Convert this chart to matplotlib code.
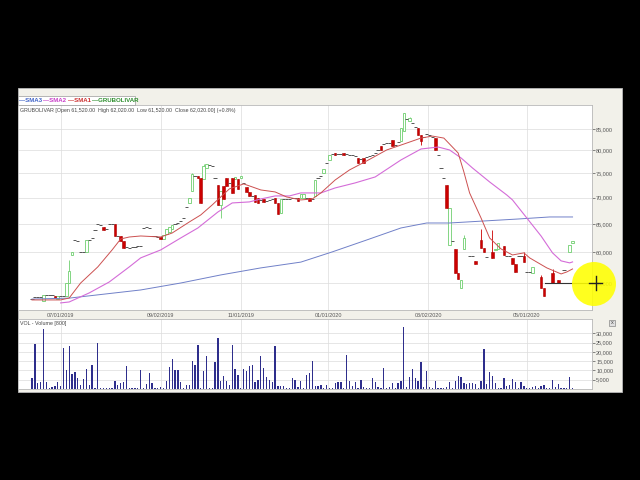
import numpy as np
import matplotlib
matplotlib.use("Agg")
import matplotlib.pyplot as plt
from matplotlib.patches import Rectangle, Ellipse
from matplotlib.lines import Line2D
from matplotlib.ticker import FixedLocator, NullLocator, FuncFormatter

plt.rcParams['font.family'] = ['Liberation Sans', 'DejaVu Sans']

symbol = "GRUBOLIVAR"
N = None

opens = [52600, 52800, 52900, 52900, 52300, 53100, 53100, 53100, 53000, 52600,
         53000, 53000, 53000, 55000, 59500, 62100, 62000, 60000, 60000, 60000,
         62100, 62500, 63900, 65000, 64800, 64400, 64000, 65000, 65000, 65000,
         62900, 62900, 61950, 60900, 60800, 60900, 60900, 61000, 61000, 64300,
         64400, 64300, 62800, 62800, 62700, 62700, 62300, 63200, 63600, 64000,
         65000, 65200, 65500, 66100, 68200, 69000, 71300, 74500, 74500, 74000,
         73800, 76200, 76800, 76500, 74000, 72600, 68500, 72300, 74000, 73000,
         74000, 73800, 73800, 74000, 73000, 72100, 71200, 70300, 70600, 70000,
         69500, 69800, 69400, 69600, 69800, 70000, 69000, 67000, 69800, 69800,
         69800, 69900, 69900, 70000, 69900, 70000, 69900, 70000, 69700, 70300,
         74000, 74500, 75000, 77300, 77900, 79300, 79400, 79200, 79200, 79400,
         79100, 78900, 79000, 78800, 78300, 78000, 78300, 78500, 78700, 79000,
         79500, 80000, 81000, 81500, 81600, 81800, 82400, 81300, 82000, 82200,
         84500, 87500, 87000, 86500, 85500, 85200, 83500, 83000, 83900, 83500,
         83000, 82800, 79000, 76200, 74000, 72600, 61300, 62000, 60500, 56600,
         54300, 60500, N, 59400, 59400, 58600, N, 62100, 60700, 59200,
         N, 60000, 60300, 60500, N, 61000, 59300, 59300, 59000, 58000,
         59400, 59400, 59300, 56700, 56700, 56600, N, N, 56000, 54300,
         N, N, 56600, N, 55500, N, 57100, N, 60000, 61520]

closes = [52600, 52800, 52900, 52900, 53200, 53100, 53100, 53100, 52700, 53000,
          53000, 53000, 55000, 56900, 60000, 62100, 62000, 60000, 60000, 62100,
          62100, 62500, 63900, 65000, 64800, 63900, 64000, 65000, 65000, 62900,
          62900, 61950, 60800, 60900, 60800, 60900, 60900, 61000, 61000, 64300,
          64400, 64300, 62800, 62800, 62700, 62200, 63000, 64000, 64500, 64800,
          65000, 65200, 65500, 66100, 68200, 70000, 74800, 74500, 74000, 69000,
          76500, 76900, 76800, 76500, 74000, 68500, 71300, 69800, 72300, 73000,
          71000, 74200, 71800, 74400, 73000, 71100, 70300, 70300, 69200, 69000,
          69500, 69100, 69400, 69600, 69800, 69000, 66800, 69800, 69800, 69800,
          69800, 69900, 69900, 69400, 70700, 70800, 69900, 69300, 69700, 73500,
          74000, 74500, 75900, 77300, 79000, 79300, 79000, 79200, 79200, 79000,
          79100, 78900, 79000, 78800, 77200, 78000, 77200, 78500, 78700, 79000,
          79500, 80000, 80000, 81500, 81600, 81800, 81000, 81300, 82000, 85200,
          88900, 87500, 87700, 86500, 85500, 83500, 82200, 83000, 83900, 83500,
          83000, 80100, 79000, 76200, 74000, 68000, 68000, 62000, 56600, 55600,
          55500, 62400, N, 59400, 59400, 58100, N, 60800, 60000, 59200,
          N, 59000, 60600, 61500, N, 59500, 59300, 59300, 58100, 56800,
          59400, 59400, 58300, 56700, 56700, 57600, N, N, 54300, 53000,
          N, N, 55000, N, 55000, N, 57100, N, 61300, 62020]

wick_hi_idx = [13, 56, 60, 130, 132, 151, 157, 161, 172, 178, 182]
wick_hi_val = [58700, 75000, 77000, 89000, 88000, 63000, 64000, 63900, 60000, 56200, 57300]
wick_lo_idx = [66, 136]
wick_lo_val = [66100, 81300]

volume_k = [6, 24, 3, 3.5, 32.5, 3.5, 0.5, 1, 1.5, 3.5,
            1.5, 22, 10, 23, 8, 9, 6, 2, 5.5, 10.5,
            2, 13, 0.5, 24.5, 0.5, 0.5, 0.5, 0.5, 0.3, 4.5,
            2, 3, 4, 12.5, 0.5, 0.5, 0.5, 0.3, 10, 0.5,
            2.5, 8.5, 3, 0.5, 0.5, 1, 0.3, 4.5, 12, 16,
            10, 10, 3.5, 0.5, 2, 2, 15, 13, 23.5, 0.5,
            9.5, 17.5, 0.5, 0.3, 14.5, 27.5, 4.5, 7, 4.5, 2,
            23.5, 11, 7.5, 0.5, 10.5, 9.5, 12.5, 13, 3.5, 5,
            17.5, 11.5, 6.5, 5, 3.5, 23, 1.5, 1.5, 1.5, 0.5,
            0.3, 6, 5, 1, 4.5, 0.3, 7.5, 8.5, 15, 1.5,
            1.5, 2, 0.3, 2, 0.5, 0.3, 3, 4, 3.5, 0.5,
            18.5, 4.5, 1.5, 4, 0.5, 5, 1, 0.5, 0.3, 6,
            3.5, 1, 0.5, 11.5, 0.5, 1, 3, 0.5, 3, 4.5,
            33.5, 1, 6.5, 10.5, 6, 4.5, 14.5, 1, 9.5, 1,
            0.5, 4.5, 0.5, 0.5, 0.5, 1, 3.5, 0.5, 4.5, 7,
            6.5, 3, 2.5, 3, 3, 2.5, 0.5, 4.5, 21.5, 2.5,
            9, 7, 3, 0.5, 0.5, 6, 1.5, 2, 5.5, 3.5,
            0.5, 3.5, 1.5, 0.5, 0.5, 1, 1.5, 0.5, 1.5, 2,
            0.5, 0.3, 5, 1, 2.5, 0.5, 0.5, 0.3, 6.5, 0.5]

sma1_idx = [0, 10, 13, 17, 23, 28, 31, 34, 38, 45, 49, 55, 59, 63, 66, 69, 74, 77, 80,
            85, 89, 94, 98, 101, 106, 111, 117, 124, 130, 136, 140, 144, 147, 149,
            151, 153, 157, 160, 164, 168, 172, 174, 180, 185, 187, 189]
sma1_val = [52430, 52430, 52720, 55000, 57560, 60390, 62290, 62640, 62820, 62640,
            63350, 65360, 66670, 68580, 70150, 71760, 72780, 72170, 71550, 71150,
            70150, 69560, 69750, 70950, 73600, 75710, 77660, 80110, 81460, 82850,
            83320, 82850, 80780, 79430, 75290, 70950, 66100, 62470, 60560, 59540,
            59890, 59050, 57400, 56430, 56750, 57230]

sma2_idx = [10, 13, 20, 27, 34, 38, 45, 52, 58, 65, 70, 76, 80, 85, 90, 94, 101, 106,
            113, 120, 129, 136, 142, 146, 150, 154, 160, 166, 168, 173, 178, 182,
            185, 188, 189]
sma2_val = [51990, 52130, 53480, 55160, 57560, 59050, 60390, 62470, 64260, 67230,
            68970, 69170, 69750, 70350, 70350, 70950, 70950, 71960, 72990, 74230,
            77880, 80330, 80780, 80110, 78330, 76140, 73190, 70540, 69560, 66100,
            62810, 59890, 58550, 58220, 58380]

sma3_idx = [0, 13, 38, 52, 66, 80, 94, 105, 117, 129, 138, 146, 158, 170, 181, 189]
sma3_val = [52560, 52700, 53930, 55000, 56270, 57400, 58350, 60060, 62110, 64260,
            65170, 65170, 65540, 65910, 66290, 66290]

date_idx = [10, 45, 73, 103.5, 138.5, 173]
date_labels = ["07/01/2019", "09/02/2019", "11/01/2019", "01/01/2020", "03/02/2020", "05/01/2020"]
price_ticks = [55000, 60000, 65000, 70000, 75000, 80000, 85000]
vol_ticks = [5000, 10000, 15000, 20000, 25000, 30000]

# ---------------------------------------------------------------
W, H = 640, 480
fig = plt.figure(figsize=(6.4, 4.8), dpi=100, facecolor='black')

def fx(px):
    return px / W

def fy(py):
    return 1 - py / H

BEIGE = '#f2f1ea'
fig.add_artist(Rectangle((fx(18), fy(392)), (622 - 18) / W, (392 - 88) / H,
                         transform=fig.transFigure, facecolor=BEIGE,
                         edgecolor='#b8b8b8', lw=0.6, zorder=0))

ax = fig.add_axes([fx(18), fy(310), (592 - 18) / W, (310 - 105) / H])
axv = fig.add_axes([fx(18), fy(389), (592 - 18) / W, (389 - 319) / H])

o = np.array(opens, dtype=float)
c = np.array(closes, dtype=float)
idx = np.arange(len(o))
hi = np.fmax(o, c)
lo = np.fmin(o, c)
for k, v in zip(wick_hi_idx, wick_hi_val):
    hi[k] = v
for k, v in zip(wick_lo_idx, wick_lo_val):
    lo[k] = v

GREEN = '#6fcf6f'
RED = '#cc0000'
up = c > o
dn = c < o
flat = c == o
bw = 0.9

ax.vlines(idx[up], lo[up], hi[up], color=GREEN, lw=0.6, zorder=3)
ax.bar(idx[up], (c - o)[up], bottom=o[up], width=bw, facecolor='white',
       edgecolor=GREEN, linewidth=0.6, zorder=4)
ax.vlines(idx[dn], lo[dn], hi[dn], color=RED, lw=0.6, zorder=3)
ax.bar(idx[dn], (o - c)[dn], bottom=c[dn], width=bw, facecolor=RED,
       edgecolor='#aa0000', linewidth=0.4, zorder=4)
ax.hlines(o[flat], idx[flat] - 0.55, idx[flat] + 0.55, color='#555555', lw=0.7, zorder=4)

ax.plot(sma3_idx, sma3_val, color='#7080c8', lw=0.7, zorder=5)
ax.plot(sma2_idx, sma2_val, color='#d46cd8', lw=0.8, zorder=5)
ax.plot(sma1_idx, sma1_val, color='#cc5050', lw=0.7, zorder=5)

ax.set_yscale('log')
ax.set_xlim(-4.9, 195.8)
ax.set_ylim(50960, 90970)
ax.yaxis.set_major_locator(FixedLocator(price_ticks))
ax.yaxis.set_minor_locator(NullLocator())
fmt = FuncFormatter(lambda v, p: f"{v:,.0f}")
ax.yaxis.set_major_formatter(fmt)
ax.yaxis.tick_right()
ax.tick_params(axis='y', labelsize=4, colors='#555555', length=2, width=0.5, pad=1)
ax.set_xticks(date_idx)
ax.set_xticklabels(date_labels)
ax.tick_params(axis='x', labelsize=3.9, colors='#555555', length=0, pad=2.5)
ax.grid(True, color='#dcdcdc', lw=0.5, zorder=0)
ax.set_axisbelow(True)
for s in ax.spines.values():
    s.set_color('#b8b8b8')
    s.set_linewidth(0.6)

last_o, last_c = o[-1], c[-1]
chg = (last_c - last_o) / last_o * 100
header = (f"{symbol} [Open {last_o:,.2f}  High {hi[-1]:,.2f}  Low {lo[-1]:,.2f}  "
          f"Close {last_c:,.2f}] (+{chg:.1f}%)")
ax.text(0.004, 0.985, header, transform=ax.transAxes, fontsize=3.8,
        color='#444444', va='top', ha='left')

# crosshair line at cursor price
ax.plot([179.5, 197.5], [55000, 55000], color='#333333', lw=0.8, zorder=6, clip_on=False)

# volume
v = np.array(volume_k) * 1000
axv.bar(idx, v, width=0.45, color='#2e2e8c', zorder=3)
axv.set_xlim(-4.9, 195.8)
axv.set_ylim(0, 37660)
axv.yaxis.set_major_locator(FixedLocator(vol_ticks))
axv.yaxis.set_major_formatter(fmt)
axv.yaxis.tick_right()
axv.tick_params(axis='y', labelsize=4, colors='#555555', length=2, width=0.5, pad=1)
axv.set_xticks(date_idx)
axv.set_xticklabels([])
axv.tick_params(axis='x', length=0)
axv.grid(True, color='#dcdcdc', lw=0.5, zorder=0)
axv.set_axisbelow(True)
for s in axv.spines.values():
    s.set_color('#b8b8b8')
    s.set_linewidth(0.6)
axv.text(0.004, 0.97, "VOL - Volume [800]", transform=axv.transAxes, fontsize=3.8,
         color='#444444', va='top', ha='left')

# legend strip
fig.add_artist(Rectangle((fx(18), fy(105)), (135 - 18) / W, (105 - 96) / H,
                         transform=fig.transFigure, facecolor='white',
                         edgecolor='#9a9a9a', lw=0.5, zorder=2))
leg = [("\u2014SMA3", '#3f63c8', 19), ("\u2014SMA2", '#c83cc8', 43),
       ("\u2014SMA1", '#cc3030', 68), ("\u2014GRUBOLIVAR", '#2f8f2f', 92)]
for txt, col, px in leg:
    fig.text(fx(px), fy(100.8), txt, color=col, fontsize=4.4, fontweight='bold',
             va='center', ha='left')

# close box in volume panel
fig.add_artist(Rectangle((fx(609), fy(326)), 6 / W, 6 / H, transform=fig.transFigure,
                         facecolor='#e0e0e0', edgecolor='#888888', lw=0.5, zorder=5))
fig.text(fx(612), fy(323), "x", fontsize=4, color='#444444', ha='center', va='center', zorder=6)

# cursor highlight
fig.add_artist(Ellipse((fx(594), fy(284)), 44 / W, 44 / H, transform=fig.transFigure,
                       facecolor='#ffff00', edgecolor='none', alpha=0.88, zorder=20))
fig.add_artist(Line2D([fx(589), fx(602)], [fy(283), fy(283)], color='#222222', lw=1.0, zorder=21))
fig.add_artist(Line2D([fx(595.5), fx(595.5)], [fy(276), fy(290)], color='#222222', lw=1.0, zorder=21))

fig.savefig("out.png", dpi=100, facecolor='black')
